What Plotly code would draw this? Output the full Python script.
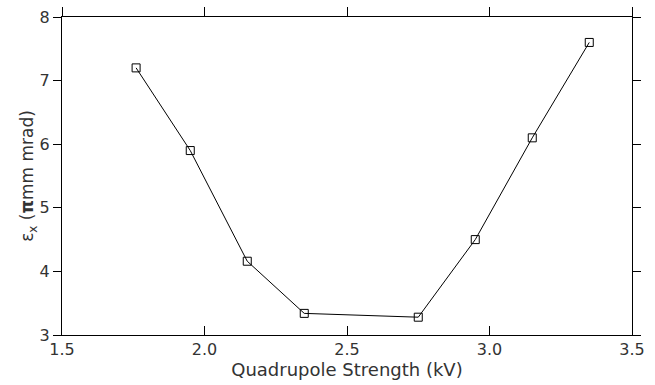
import plotly.graph_objects as go

strength_kv = [1.76, 1.95, 2.15, 2.35, 2.75, 2.95, 3.15, 3.35]
emittance = [7.2, 5.9, 4.16, 3.34, 3.28, 4.5, 6.1, 7.6]

x_ticks = [1.5, 2.0, 2.5, 3.0, 3.5]
y_ticks = [3, 4, 5, 6, 7, 8]

FONT = "DejaVu Sans"
TXT = "#333333"

fig = go.Figure()
fig.add_trace(go.Scatter(
    x=strength_kv, y=emittance, mode="lines+markers",
    line=dict(color="black", width=1),
    marker=dict(symbol="square-open", size=8, color="black", line=dict(width=1)),
    showlegend=False,
))

fig.update_layout(
    width=655, height=385,
    margin=dict(l=62, r=23, t=17, b=50),
    paper_bgcolor="white", plot_bgcolor="white",
    font=dict(family=FONT, size=16, color=TXT),
    xaxis=dict(
        range=[1.5, 3.5], tickvals=x_ticks, ticktext=[f"{v:.1f}" for v in x_ticks],
        ticks="inside", ticklen=9, tickwidth=1, tickcolor="black", automargin=False,
        showline=True, linecolor="black", linewidth=1, showgrid=False, zeroline=False,
        title=dict(text="Quadrupole Strength (kV)", font=dict(size=18, color=TXT), standoff=2),
        tickfont=dict(size=16, color=TXT),
    ),
    xaxis2=dict(
        range=[1.5, 3.5], overlaying="x", side="top", tickvals=x_ticks,
        ticks="outside", ticklen=9, tickwidth=1, tickcolor="black", automargin=False,
        showticklabels=False, showline=True, linecolor="black", linewidth=1,
        showgrid=False, zeroline=False,
    ),
    yaxis=dict(
        range=[3, 8], tickvals=y_ticks, ticktext=[str(v) for v in y_ticks],
        ticks="outside", ticklen=8, tickwidth=1, tickcolor="black", mirror="ticks",
        showline=True, linecolor="black", linewidth=1, showgrid=False, zeroline=False,
        automargin=False,
        title=dict(text="ε<sub>x</sub> (<b>π</b>mm mrad)", font=dict(size=17, color=TXT), standoff=0),
        tickfont=dict(size=16, color=TXT),
    ),
)
fig.add_trace(go.Scatter(x=[None], y=[None], xaxis="x2", showlegend=False, hoverinfo="skip"))

fig.write_html("out.html")
